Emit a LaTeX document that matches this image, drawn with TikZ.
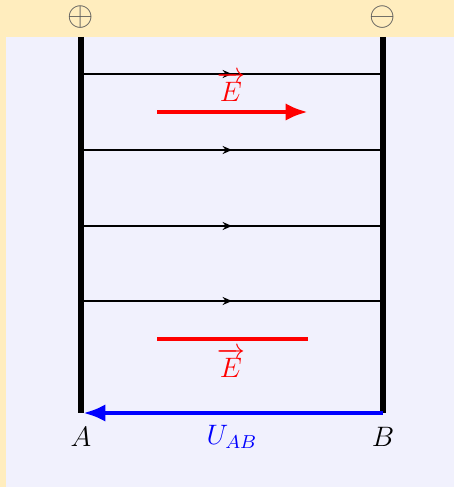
\documentclass[tikz,border=0pt]{standalone}
\usepackage{amsmath}
\usetikzlibrary{arrows.meta,decorations.markings}
\definecolor{bgyellow}{RGB}{255,237,190}
\definecolor{bglilac}{RGB}{241,241,253}
\tikzset{
  plate/.style={line width=2.6pt},
  fieldline/.style={thick, postaction={decorate},
    decoration={markings, mark=at position 0.5 with {\arrow{Stealth[length=4pt,width=3.4pt]}}}},
  bigarrow/.style={line width=2.1pt, -{Latex[length=9.5pt,width=7.4pt]}},
  lab/.style={font=\large},
  sign/.style={font=\Large, black!65, inner sep=0pt},
}

\begin{document}
\begin{tikzpicture}[x=0.15mm, y=-0.15mm]
            % Backgrounds
            \fill[bgyellow] (0,0) rectangle (454,487);
            \fill[bglilac] (6,37) rectangle (454,487);

            % Plates
            \coordinate (At) at (81,37);
            \coordinate (A) at (81,413);
            \coordinate (Bt) at (383,37);
            \coordinate (B) at (383,413);
            \draw[plate] (At) -- (A);
            \draw[plate] (Bt) -- (B);
            \node[sign] (plus) at (81,17) {$\oplus$};
            \node[sign] (minus) at (383,17) {$\ominus$};

            % Field lines
            \foreach \i/\y in {1/74, 2/150, 3/226, 4/301} {
                \coordinate (L\i) at (83,\y);
                \coordinate (R\i) at (381,\y);
                \draw[fieldline] (L\i) -- (R\i);
            }

            % Field vector
            \coordinate (E1) at (157,112);
            \coordinate (E2) at (308,112);
            \draw[red, bigarrow] (E1) -- (E2);
            \node[lab, red] (Etop) at (231,87) {$\overrightarrow{E}$};

            % Field without arrow
            \coordinate (F1) at (157,339);
            \coordinate (F2) at (308,339);
            \draw[red, line width=2.1pt] (F1) -- (F2);
            \node[lab, red] (Ebot) at (231,363) {$\overrightarrow{E}$};

            % Voltage
            \coordinate (Aend) at (83,413);
            \draw[blue, bigarrow] (B) -- (Aend);
            \node[lab] (Alab) at (81,437) {$A$};
            \node[lab] (Blab) at (383,437) {$B$};
            \node[lab, blue] (U) at (232,437) {$U_{AB}$};
\end{tikzpicture}
\end{document}
